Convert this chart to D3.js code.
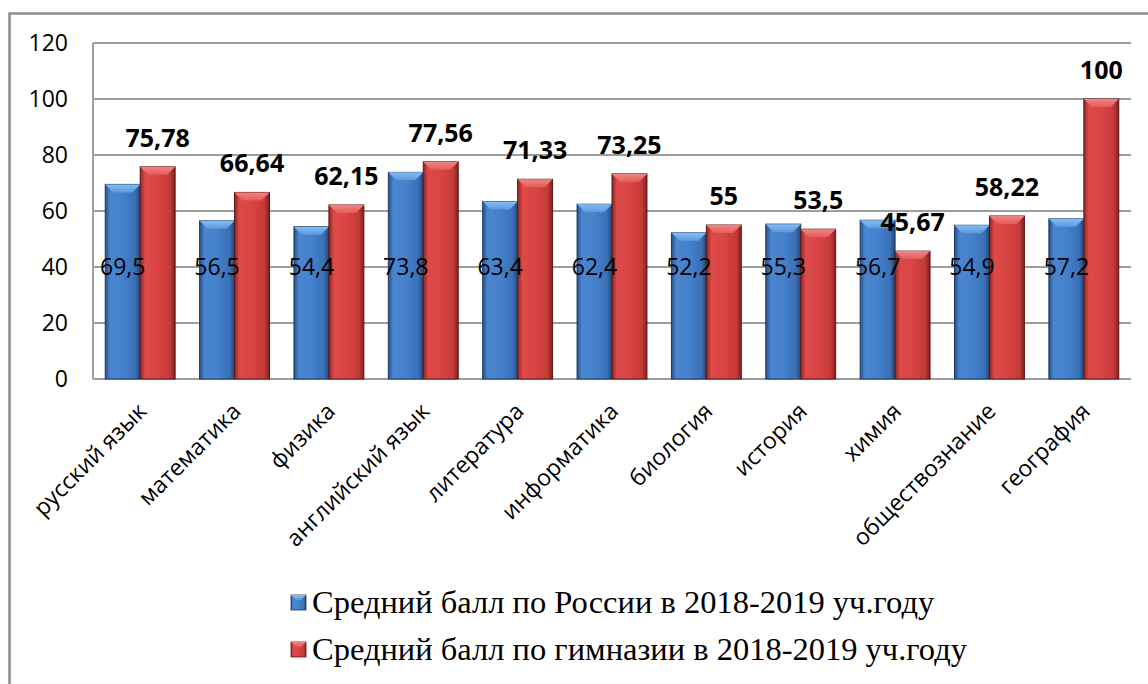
<!DOCTYPE html>
<html>
<head>
<meta charset="utf-8">
<script src="https://cdn.jsdelivr.net/npm/d3@7.9.0/dist/d3.min.js"></script>
<style>
  html, body { margin: 0; padding: 0; background: #fff; }
  svg { display: block; }
</style>
</head>
<body>
<svg id="chart" width="1148" height="684"></svg>
<script>
// data
const subjects = ['русский язык', 'математика', 'физика', 'английский язык', 'литература',
  'информатика', 'биология', 'история', 'химия', 'обществознание', 'география'];
const russiaAvg = [69.5, 56.5, 54.4, 73.8, 63.4, 62.4, 52.2, 55.3, 56.7, 54.9, 57.2];
const gymnasiumAvg = [75.78, 66.64, 62.15, 77.56, 71.33, 73.25, 55, 53.5, 45.67, 58.22, 100];
const yTicks = [0, 20, 40, 60, 80, 100, 120];
const seriesKeys = ['russia', 'gym'];
const seriesNames = ['Средний балл по России в 2018-2019 уч.году',
  'Средний балл по гимназии в 2018-2019 уч.году'];

const W = 1148, H = 684;
const plot = { left: 93, right: 1131, top: 43, bottom: 379 };

const svg = d3.select('#chart');
const defs = svg.append('defs');

// bevelled bar colours
const palette = {
  russia: { edges: ['#274f88', '#4a86d0', '#4581cc', '#3a70b6', '#224779'], cap: ['#86bdf2', '#5c98de'], stroke: '#1d3a66' },
  gym:    { edges: ['#8e2626', '#dd4a48', '#d94444', '#c43a38', '#7e1f1f'], cap: ['#f28482', '#e25c5a'], stroke: '#5e1616' }
};
Object.entries(palette).forEach(([k, p]) => {
  const g = defs.append('linearGradient').attr('id', 'side-' + k)
    .attr('x1', 0).attr('x2', 1).attr('y1', 0).attr('y2', 0);
  [0, 0.14, 0.5, 0.86, 1].forEach((o, i) =>
    g.append('stop').attr('offset', o).attr('stop-color', p.edges[i]));
  const c = defs.append('linearGradient').attr('id', 'cap-' + k)
    .attr('x1', 0).attr('x2', 0).attr('y1', 0).attr('y2', 1);
  c.append('stop').attr('offset', 0).attr('stop-color', p.cap[0]);
  c.append('stop').attr('offset', 1).attr('stop-color', p.cap[1]);
});

// outer frame
svg.append('rect')
  .attr('x', 9.5).attr('y', 13.5).attr('width', W + 20).attr('height', H + 20)
  .attr('fill', 'none').attr('stroke', '#8c8c8c').attr('stroke-width', 2.5);

// scales
const x = d3.scaleBand().domain(subjects).range([plot.left, plot.right]);
const x1 = d3.scaleBand().domain(seriesKeys).range([0, x.bandwidth()])
  .paddingInner(0).paddingOuter(0.35);
const y = d3.scaleLinear().domain([0, 120]).range([plot.bottom, plot.top]);

// gridlines
svg.append('g').selectAll('line')
  .data(yTicks)
  .join('line')
  .attr('x1', plot.left).attr('x2', plot.right)
  .attr('y1', d => y(d)).attr('y2', d => y(d))
  .attr('stroke', '#9e9e9e').attr('stroke-width', 2);

svg.append('line')
  .attr('x1', plot.left).attr('x2', plot.left)
  .attr('y1', plot.top).attr('y2', plot.bottom)
  .attr('stroke', '#9e9e9e').attr('stroke-width', 2);

// y axis labels
const yAxis = d3.axisLeft(y).tickValues(yTicks).tickSize(0).tickPadding(25);
const yg = svg.append('g').attr('transform', `translate(${plot.left},0)`).call(yAxis);
yg.select('.domain').remove();
yg.selectAll('text')
  .attr('font-family', '"Open Sans", sans-serif')
  .attr('font-size', 23).attr('fill', '#000');

// rows per subject
const rows = subjects.map((s, i) => ({ subject: s, russia: russiaAvg[i], gym: gymnasiumAvg[i] }));

const bevel = 8;
function drawBar(g, k, x0, w, v) {
  const top = y(v), bot = y(0);
  g.append('rect')
    .attr('x', x0).attr('y', top).attr('width', w).attr('height', bot - top)
    .attr('fill', `url(#side-${k})`)
    .attr('stroke', palette[k].stroke).attr('stroke-width', 1);
  g.append('path')
    .attr('d', `M${x0},${top} L${x0 + w},${top} L${x0 + w - bevel},${top + bevel} L${x0 + bevel},${top + bevel} Z`)
    .attr('fill', `url(#cap-${k})`);
}

const groups = svg.append('g').selectAll('g')
  .data(rows)
  .join('g')
  .attr('transform', d => `translate(${x(d.subject)},0)`);

groups.each(function (d) {
  const g = d3.select(this);
  seriesKeys.forEach(k => drawBar(g, k, x1(k), x1.bandwidth(), d[k]));
});

const fmt = v => String(v).replace('.', ',');

// blue labels (inside bars)
groups.append('text')
  .attr('x', x1('russia') + x1.bandwidth() / 2)
  .attr('y', y(40))
  .attr('dy', '0.35em')
  .attr('text-anchor', 'middle')
  .attr('font-family', '"Open Sans", sans-serif')
  .attr('font-size', 23)
  .attr('fill', '#000')
  .text(d => fmt(d.russia));

// red labels (above bars)
groups.append('text')
  .attr('x', x1('gym') + x1.bandwidth() / 2)
  .attr('y', d => y(d.gym) - 29)
  .attr('dy', '0.35em')
  .attr('text-anchor', 'middle')
  .attr('font-family', '"Open Sans", sans-serif')
  .attr('font-weight', 'bold')
  .attr('font-size', 25)
  .attr('fill', '#000')
  .text(d => fmt(d.gym));

// category labels, rotated
svg.append('g').selectAll('text')
  .data(subjects)
  .join('text')
  .attr('transform', d => `translate(${x(d) + x.bandwidth() / 2 + 2},${plot.bottom + 28}) rotate(-45)`)
  .attr('text-anchor', 'end')
  .attr('dy', '0.35em')
  .attr('font-family', '"Open Sans", sans-serif')
  .attr('font-size', 23)
  .attr('fill', '#000')
  .text(d => d);

// legend
const legend = svg.append('g').attr('transform', 'translate(291,602)');
const items = legend.selectAll('g')
  .data(seriesKeys)
  .join('g')
  .attr('transform', (d, i) => `translate(0,${i * 47})`);

items.append('rect')
  .attr('x', 0).attr('y', -7).attr('width', 15).attr('height', 15)
  .attr('fill', d => `url(#side-${d})`)
  .attr('stroke', d => palette[d].stroke).attr('stroke-width', 0.8);
items.append('path')
  .attr('d', 'M0,-7 L15,-7 L10,-2 L5,-2 Z')
  .attr('fill', d => `url(#cap-${d})`);

items.append('text')
  .attr('x', 21)
  .attr('dy', '0.35em')
  .attr('font-family', '"Liberation Serif", "Times New Roman", serif')
  .attr('font-size', 32.5)
  .attr('fill', '#000')
  .text((d, i) => seriesNames[i]);
</script>
</body>
</html>
